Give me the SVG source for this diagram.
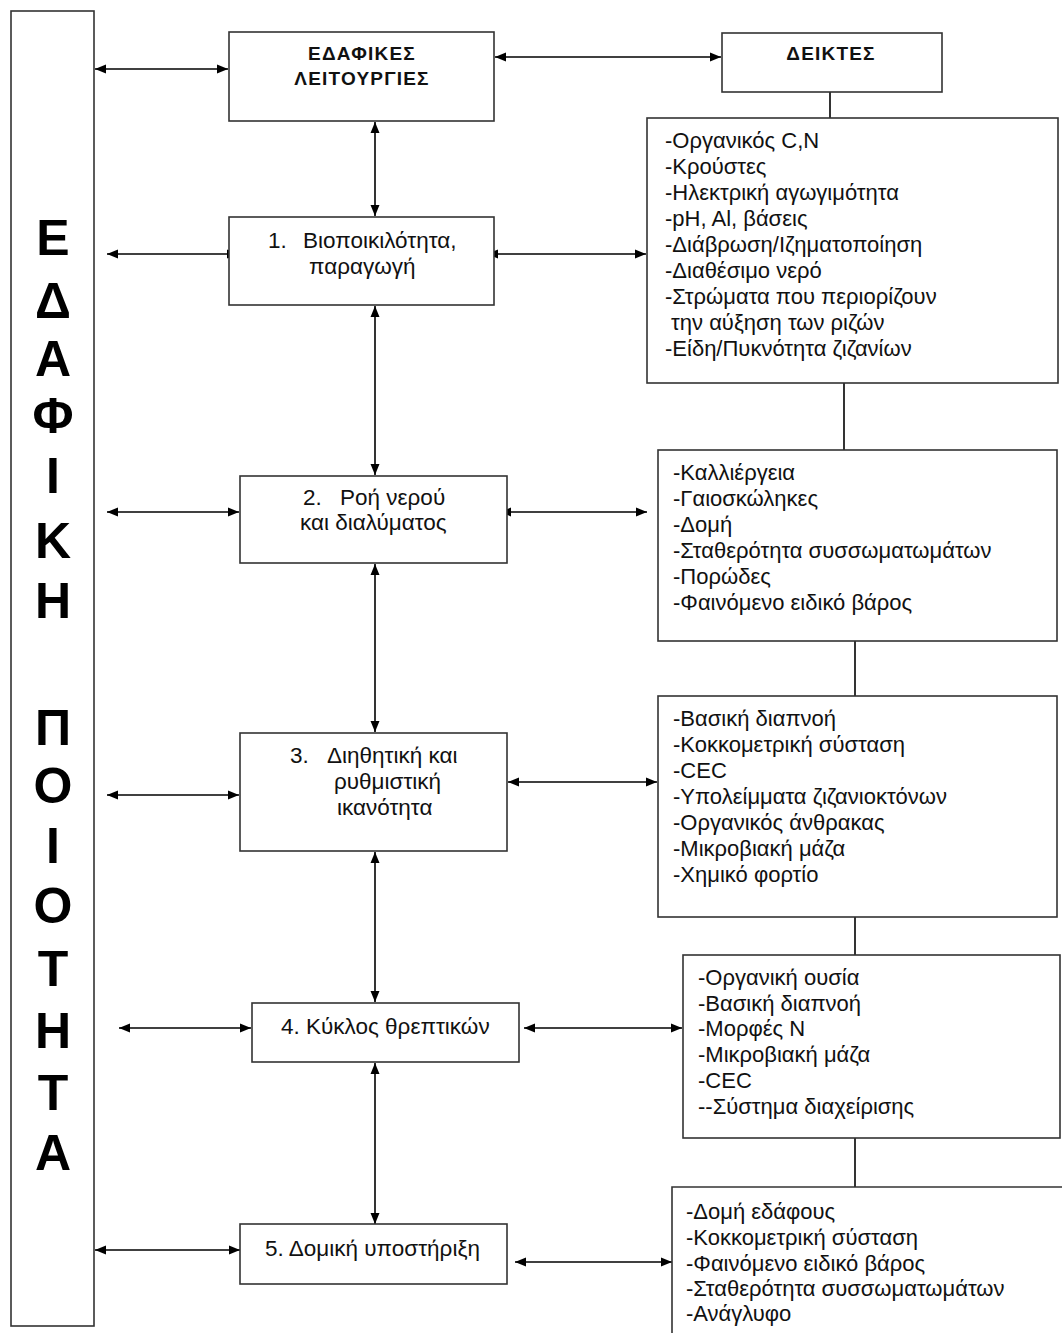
<svg xmlns="http://www.w3.org/2000/svg" width="1062" height="1333" viewBox="0 0 1062 1333">
<style>
.box{fill:#fff;stroke:#333;stroke-width:1.6}
.t{font-family:"Liberation Sans",Arial,sans-serif;font-size:22.5px;fill:#111;white-space:pre}
.li{font-family:"Liberation Sans",Arial,sans-serif;font-size:22px;fill:#111;white-space:pre}
.h{font-family:"Liberation Sans",Arial,sans-serif;font-size:19px;font-weight:bold;letter-spacing:1.2px;fill:#111;text-anchor:middle}
.big{font-family:"Liberation Sans",Arial,sans-serif;font-size:50px;font-weight:bold;fill:#000;text-anchor:middle}
.c{stroke:#000;stroke-width:1.6;fill:none}
.ar{marker-start:url(#ah);marker-end:url(#ah)}
</style>
<defs>
<marker id="ah" markerUnits="userSpaceOnUse" markerWidth="12" markerHeight="10" refX="11" refY="5" orient="auto-start-reverse">
<path d="M0,0.5 L11,5 L0,9.5 z" fill="#000"/>
</marker>
</defs>
<rect width="1062" height="1333" fill="#fff"/>

<g id="connectors">
<line class="c ar" x1="95" y1="69" x2="228" y2="69"/>
<line class="c ar" x1="495" y1="57" x2="721" y2="57"/>
<line class="c ar" x1="375" y1="122" x2="375" y2="216"/>
<line class="c ar" x1="107" y1="254" x2="238" y2="254"/>
<line class="c ar" x1="487" y1="254" x2="646" y2="254"/>
<line class="c" x1="830" y1="92" x2="830" y2="118"/>
<line class="c ar" x1="375" y1="306" x2="375" y2="475"/>
<line class="c" x1="844" y1="383" x2="844" y2="450"/>
<line class="c ar" x1="107" y1="512" x2="239" y2="512"/>
<line class="c ar" x1="500" y1="512" x2="647" y2="512"/>
<line class="c ar" x1="375" y1="564" x2="375" y2="732"/>
<line class="c" x1="855" y1="641" x2="855" y2="696"/>
<line class="c ar" x1="107" y1="795" x2="239" y2="795"/>
<line class="c ar" x1="508" y1="782" x2="657" y2="782"/>
<line class="c ar" x1="375" y1="852" x2="375" y2="1002"/>
<line class="c" x1="855" y1="917" x2="855" y2="955"/>
<line class="c ar" x1="119" y1="1028" x2="251" y2="1028"/>
<line class="c ar" x1="524" y1="1028" x2="682" y2="1028"/>
<line class="c ar" x1="375" y1="1063" x2="375" y2="1224"/>
<line class="c" x1="855" y1="1138" x2="855" y2="1187"/>
<line class="c ar" x1="95" y1="1250" x2="240" y2="1250"/>
<line class="c ar" x1="515" y1="1262" x2="672" y2="1262"/>
</g>

<g id="soil-quality">
<rect class="box" x="11" y="11" width="83" height="1315"/>
<text class="big" x="53" y="255">Ε</text>
<text class="big" x="53" y="318">Δ</text>
<text class="big" x="53" y="376">Α</text>
<text class="big" x="53" y="433">Φ</text>
<text class="big" x="53" y="493">Ι</text>
<text class="big" x="53" y="558">Κ</text>
<text class="big" x="53" y="618">Η</text>
<text class="big" x="53" y="745">Π</text>
<text class="big" x="53" y="803">Ο</text>
<text class="big" x="53" y="863">Ι</text>
<text class="big" x="53" y="923">Ο</text>
<text class="big" x="53" y="986">Τ</text>
<text class="big" x="53" y="1048">Η</text>
<text class="big" x="53" y="1110">Τ</text>
<text class="big" x="53" y="1170">Α</text>
</g>

<g id="soil-functions">
<rect class="box" x="229" y="32" width="265" height="89"/>
<text class="h" x="362" y="60">ΕΔΑΦΙΚΕΣ</text>
<text class="h" x="362" y="85">ΛΕΙΤΟΥΡΓΙΕΣ</text>
</g>

<g id="indicators">
<rect class="box" x="722" y="33" width="220" height="59"/>
<text class="h" x="831" y="60">ΔΕΙΚΤΕΣ</text>
</g>

<g id="f1">
<rect class="box" x="229" y="217" width="265" height="88"/>
<text class="t" x="268" y="248">1.</text>
<text class="t" x="303" y="248">Βιοποικιλότητα,</text>
<text class="t" x="309" y="274">παραγωγή</text>
</g>

<g id="i1">
<rect class="box" x="647" y="118" width="411" height="265"/>
<text class="li" x="665" y="148">-Οργανικός C,N</text>
<text class="li" x="665" y="174">-Κρούστες</text>
<text class="li" x="665" y="200">-Ηλεκτρική αγωγιμότητα</text>
<text class="li" x="665" y="226">-pH, Al, βάσεις</text>
<text class="li" x="665" y="252">-Διάβρωση/Ιζηματοποίηση</text>
<text class="li" x="665" y="278">-Διαθέσιμο νερό</text>
<text class="li" x="665" y="304">-Στρώματα που περιορίζουν</text>
<text class="li" x="665" y="330"> την αύξηση των ριζών</text>
<text class="li" x="665" y="356">-Είδη/Πυκνότητα ζιζανίων</text>
</g>

<g id="f2">
<rect class="box" x="240" y="476" width="267" height="87"/>
<text class="t" x="303" y="505">2.</text>
<text class="t" x="340" y="505">Ροή νερού</text>
<text class="t" x="300" y="530">και διαλύματος</text>
</g>

<g id="i2">
<rect class="box" x="658" y="450" width="399" height="191"/>
<text class="li" x="673" y="480">-Καλλιέργεια</text>
<text class="li" x="673" y="506">-Γαιοσκώληκες</text>
<text class="li" x="673" y="532">-Δομή</text>
<text class="li" x="673" y="558">-Σταθερότητα συσσωματωμάτων</text>
<text class="li" x="673" y="584">-Πορώδες</text>
<text class="li" x="673" y="610">-Φαινόμενο ειδικό βάρος</text>
</g>

<g id="f3">
<rect class="box" x="240" y="733" width="267" height="118"/>
<text class="t" x="290" y="763">3.</text>
<text class="t" x="327" y="763">Διηθητική και</text>
<text class="t" x="334" y="789">ρυθμιστική</text>
<text class="t" x="337" y="815">ικανότητα</text>
</g>

<g id="i3">
<rect class="box" x="658" y="696" width="399" height="221"/>
<text class="li" x="673" y="726">-Βασική διαπνοή</text>
<text class="li" x="673" y="752">-Κοκκομετρική σύσταση</text>
<text class="li" x="673" y="778">-CEC</text>
<text class="li" x="673" y="804">-Υπολείμματα ζιζανιοκτόνων</text>
<text class="li" x="673" y="830">-Οργανικός άνθρακας</text>
<text class="li" x="673" y="856">-Μικροβιακή μάζα</text>
<text class="li" x="673" y="882">-Χημικό φορτίο</text>
</g>

<g id="f4">
<rect class="box" x="252" y="1003" width="267" height="59"/>
<text class="t" x="281" y="1034">4. Κύκλος θρεπτικών</text>
</g>

<g id="i4">
<rect class="box" x="683" y="955" width="377" height="183"/>
<text class="li" x="698" y="985">-Οργανική ουσία</text>
<text class="li" x="698" y="1011">-Βασική διαπνοή</text>
<text class="li" x="698" y="1036">-Μορφές N</text>
<text class="li" x="698" y="1062">-Μικροβιακή μάζα</text>
<text class="li" x="698" y="1088">-CEC</text>
<text class="li" x="698" y="1114">--Σύστημα διαχείρισης</text>
</g>

<g id="f5">
<rect class="box" x="240" y="1224" width="267" height="60"/>
<text class="t" x="265" y="1256">5. Δομική υποστήριξη</text>
</g>

<g id="i5">
<path class="box" d="M672,1340 L672,1187 L1070,1187"/>
<text class="li" x="686" y="1219">-Δομή εδάφους</text>
<text class="li" x="686" y="1245">-Κοκκομετρική σύσταση</text>
<text class="li" x="686" y="1271">-Φαινόμενο ειδικό βάρος</text>
<text class="li" x="686" y="1296">-Σταθερότητα συσσωματωμάτων</text>
<text class="li" x="686" y="1321">-Ανάγλυφο</text>
</g>
</svg>
